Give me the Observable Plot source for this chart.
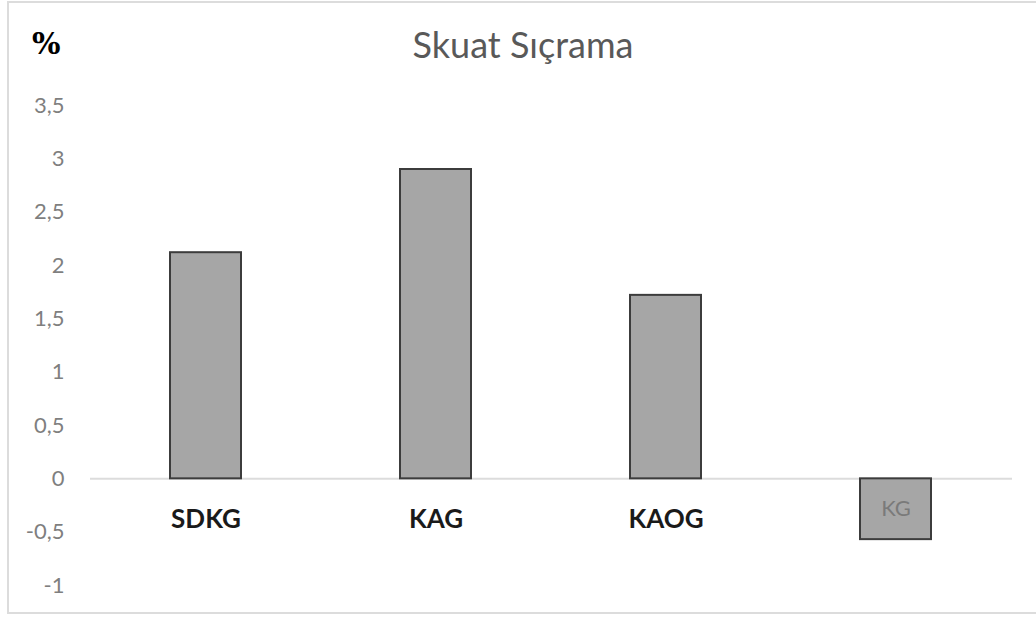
<!DOCTYPE html>
<html>
<head>
<meta charset="utf-8">
<script src="https://cdn.jsdelivr.net/npm/d3@7"></script>
<script src="https://cdn.jsdelivr.net/npm/@observablehq/plot@0.6"></script>
<style>
  html, body { margin: 0; padding: 0; background: #fff; }
  #wrap { position: relative; width: 1036px; height: 617px; overflow: hidden; }
  #border { position: absolute; left: 7px; top: 1px; width: 1040px; height: 613px; border: 2px solid #dcdcdc; box-sizing: border-box; }
  #chart { position: absolute; left: 0; top: 0; }
  #title { position: absolute; left: 0; width: 1046px; top: 24px; line-height: 40px; text-align: center; font-family: Lato, sans-serif; font-size: 36px; color: #595959; }
  #unit { position: absolute; left: 32px; top: 26px; line-height: 36px; font-family: "DejaVu Serif", serif; font-weight: bold; font-size: 30px; color: #000; }
</style>
</head>
<body>
<div id="wrap">
  <div id="border"></div>
  <div id="chart"></div>
  <div id="title">Skuat Sıçrama</div>
  <div id="unit">%</div>
</div>
<script>
const categories = ["SDKG", "KAG", "KAOG", "KG"];
const values = [2.12, 2.9, 1.72, -0.57];
const yTicks = [-1, -0.5, 0, 0.5, 1, 1.5, 2, 2.5, 3, 3.5];

const data = categories.map((c, i) => ({cat: c, val: values[i]}));
const fmt = d => String(d).replace(".", ",");

const chart = Plot.plot({
  width: 1036,
  height: 617,
  marginLeft: 90,
  marginRight: 24,
  marginTop: 105,
  marginBottom: 32,
  style: {fontFamily: "Lato, sans-serif", background: "transparent"},
  x: {domain: categories, paddingInner: 0.69, paddingOuter: 0.345, axis: null},
  y: {domain: [-1, 3.5], axis: null},
  marks: [
    Plot.axisY({ticks: yTicks, tickFormat: fmt, tickSize: 0, tickPadding: 26, fontSize: 22, fill: "#7f7f7f", label: null}),
    Plot.ruleY([0], {stroke: "#dcdcdc", strokeWidth: 2}),
    Plot.barY(data, {x: "cat", y: "val", fill: "#a6a6a6", stroke: "#3c3c3c", strokeWidth: 2}),
    Plot.text(data.filter(d => d.val >= 0), {x: "cat", y: 0, text: "cat", dy: 41, fontSize: 26, fontWeight: "bold", fill: "#1a1a1a"}),
    Plot.text(data.filter(d => d.val < 0), {x: "cat", y: d => d.val / 2, text: "cat", fontSize: 22, fill: "#7a7a7a"})
  ]
});
document.getElementById("chart").appendChild(chart);
</script>
</body>
</html>
